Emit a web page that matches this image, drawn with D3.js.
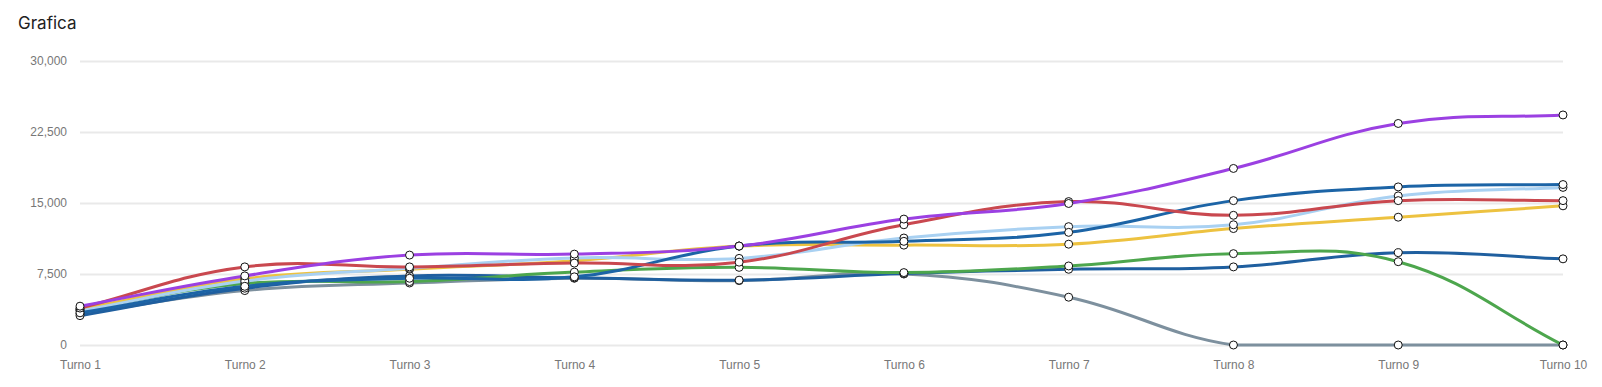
<!DOCTYPE html>
<html>
<head>
<meta charset="utf-8">
<script src="https://cdn.jsdelivr.net/npm/d3@7"></script>
<style>
  body { margin: 0; background: #fff; }
  .tick text { font-family: "Liberation Sans", Arial, sans-serif; font-size: 12px; fill: #777; }
</style>
</head>
<body>
<div id="chart"></div>
<script>
var svgWidth = 1602;
var svgHeight = 387;

// Data
var turnos = ["Turno 1", "Turno 2", "Turno 3", "Turno 4", "Turno 5", "Turno 6", "Turno 7", "Turno 8", "Turno 9", "Turno 10"];
var yTicks = [0, 7500, 15000, 22500, 30000];

var purpleVals = [4100, 7300, 9500, 9600, 10450, 13300, 14950, 18650, 23400, 24300];
var redVals = [3900, 8250, 8250, 8650, 8750, 12700, 15150, 13700, 15250, 15250];
var blueVals = [3400, 6200, 7050, 7200, 10450, 10950, 11900, 15250, 16700, 16950];
var lightBlueVals = [3600, 6750, 8100, 9200, 9150, 11300, 12500, 12700, 15750, 16650];
var yellowVals = [3800, 7000, 8000, 8900, 10450, 10550, 10650, 12300, 13500, 14700];
var greenVals = [3700, 6500, 6700, 7700, 8200, 7650, 8350, 9650, 8800, 0];
var navyVals = [3100, 6000, 7300, 7100, 6850, 7550, 8000, 8250, 9750, 9100];
var grayVals = [3300, 5750, 6550, 7050, 6800, 7500, 5050, 0, 0, 0];

var series = [
  { values: grayVals, color: "#7d909e" },
  { values: navyVals, color: "#1f5f9f" },
  { values: greenVals, color: "#4da64d" },
  { values: yellowVals, color: "#edc240" },
  { values: lightBlueVals, color: "#a9d1f2" },
  { values: blueVals, color: "#1c64a6" },
  { values: redVals, color: "#c9484f" },
  { values: purpleVals, color: "#9b40e2" }
];

var area = { left: 80, right: 1563, top: 61, bottom: 345 };

var svg = d3.select("#chart")
  .append("svg")
  .attr("width", svgWidth)
  .attr("height", svgHeight);

var xScale = d3.scalePoint()
  .domain(turnos)
  .range([area.left, area.right]);

var yScale = d3.scaleLinear()
  .domain([0, 30000])
  .range([area.bottom, area.top]);

// title
svg.append("text")
  .attr("x", 18)
  .attr("y", 29)
  .style("font-family", "Inter, 'Noto Sans', sans-serif")
  .style("font-size", "17px")
  .style("fill", "#222")
  .text("Grafica");

// horizontal grid + y labels
var leftAxis = d3.axisLeft(yScale)
  .tickValues(yTicks)
  .tickSize(-(area.right - area.left))
  .tickPadding(13)
  .tickFormat(d3.format(","));

var yAxisG = svg.append("g")
  .attr("transform", `translate(${area.left}, 0)`)
  .call(leftAxis);
yAxisG.select(".domain").remove();
yAxisG.selectAll(".tick line").attr("stroke", "#e9e9e9").attr("stroke-width", 2);

var bottomAxis = d3.axisBottom(xScale).tickSize(0).tickPadding(15);
var xAxisG = svg.append("g")
  .attr("transform", `translate(0, ${area.bottom})`)
  .call(bottomAxis);
xAxisG.select(".domain").remove();

// spline like the chart library that made the picture (tension 0.4, capped to area)
function splinePath(pts, t) {
  var cps = pts.map(function(cur, i) {
    var prev = pts[i - 1] || cur;
    var next = pts[i + 1] || cur;
    var d01 = Math.hypot(cur[0] - prev[0], cur[1] - prev[1]);
    var d12 = Math.hypot(next[0] - cur[0], next[1] - cur[1]);
    var s01 = d01 / (d01 + d12) || 0;
    var s12 = d12 / (d01 + d12) || 0;
    var fa = t * s01, fb = t * s12;
    var cap = function(p) {
      return [Math.max(area.left, Math.min(area.right, p[0])),
              Math.max(area.top, Math.min(area.bottom, p[1]))];
    };
    return {
      prev: cap([cur[0] - fa * (next[0] - prev[0]), cur[1] - fa * (next[1] - prev[1])]),
      next: cap([cur[0] + fb * (next[0] - prev[0]), cur[1] + fb * (next[1] - prev[1])])
    };
  });
  var p = d3.path();
  p.moveTo(pts[0][0], pts[0][1]);
  for (var i = 1; i < pts.length; i++) {
    p.bezierCurveTo(cps[i - 1].next[0], cps[i - 1].next[1], cps[i].prev[0], cps[i].prev[1], pts[i][0], pts[i][1]);
  }
  return p.toString();
}

var linesG = svg.append("g");
series.forEach(function(s) {
  var pts = s.values.map(function(v, i) { return [xScale(turnos[i]), yScale(v)]; });
  linesG.append("path")
    .attr("d", splinePath(pts, 0.4))
    .attr("fill", "none")
    .attr("stroke", s.color)
    .attr("stroke-width", 3);
});

var pointsG = svg.append("g");
series.forEach(function(s) {
  pointsG.selectAll(null)
    .data(s.values)
    .enter()
    .append("circle")
    .attr("cx", (d, i) => xScale(turnos[i]))
    .attr("cy", d => yScale(d))
    .attr("r", 4)
    .attr("fill", "#fff")
    .attr("stroke", "#111")
    .attr("stroke-width", 1);
});
</script>
</body>
</html>
